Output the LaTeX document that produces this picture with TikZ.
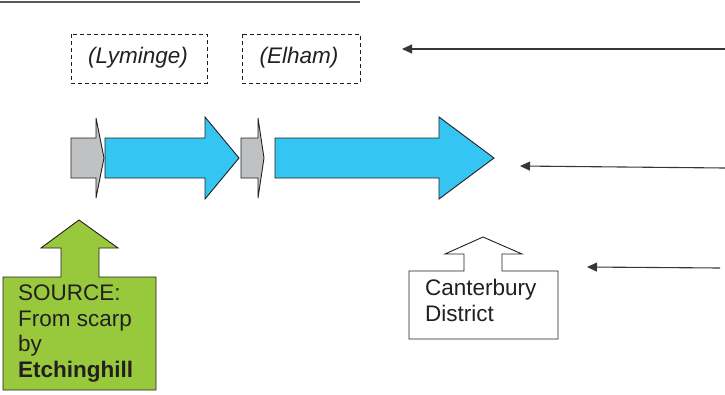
\documentclass[tikz,border=0pt]{standalone}
\usepackage{fontspec}
\setmainfont{Liberation Sans}
\usetikzlibrary{arrows.meta}
\definecolor{skyblue}{HTML}{35C5F2}
\definecolor{leafgreen}{HTML}{98C93C}
\definecolor{lightgrey}{HTML}{C0C1C3}
\definecolor{ink}{HTML}{231F20}
\tikzset{
  outline/.style={draw=ink, line width=0.9pt, line join=miter},
  dashbox/.style={draw=ink, line width=0.9pt, dash pattern=on 4pt off 3pt},
  lbl/.style={text=ink, font=\fontsize{22.5}{25.5}\selectfont, inner sep=0pt, align=left},
  pointer/.style={draw=ink!90, line width=1.1pt, -{Triangle[length=10pt,width=9pt]}}
}
\begin{document}
\begin{tikzpicture}[x=1pt,y=-1pt]
\useasboundingbox (0,0) rectangle (725,394);
% top rule
\draw[draw=ink!75, line width=1.3pt] (0,2) -- (360,2);
% dashed labels
\draw[dashbox] (71,34) rectangle (207,83);
\node[lbl, font=\fontsize{22.5}{25.5}\selectfont\itshape] (lym) at (138,58) {(Lyminge)};
\draw[dashbox] (242,34) rectangle (360,83);
\node[lbl, font=\fontsize{22.5}{25.5}\selectfont\itshape] (elh) at (299,58) {(Elham)};
% grey arrow 1
\draw[outline, fill=lightgrey] (71,138) -- (96,138) -- (96,118) -- (104,158) -- (96,198) -- (96,178) -- (71,178) -- cycle;
% blue arrow 1
\draw[outline, fill=skyblue] (105,138) -- (205,138) -- (205,117) -- (239,158) -- (205,199) -- (205,178) -- (105,178) -- cycle;
% grey arrow 2
\draw[outline, fill=lightgrey] (241,138) -- (258,138) -- (258,118) -- (264,158) -- (258,198) -- (258,178) -- (241,178) -- cycle;
% blue arrow 2
\draw[outline, fill=skyblue] (275,138) -- (439,138) -- (439,117) -- (494,158) -- (439,199) -- (439,178) -- (275,178) -- cycle;
% green source
\draw[outline, fill=leafgreen] (3,277) -- (61,277) -- (61,248) -- (41,248) -- (79,220) -- (118,248) -- (99,248) -- (99,277) -- (156,277) -- (156,390) -- (3,390) -- cycle;
\node[lbl, anchor=north west] (src) at (18,285) {SOURCE:\\From scarp\\by\\\textbf{Etchinghill}};
% Canterbury
\draw[outline, fill=white] (409,271) -- (464,271) -- (464,254) -- (445,254) -- (483,237) -- (522,254) -- (502,254) -- (502,271) -- (558,271) -- (558,339) -- (409,339) -- cycle;
\node[lbl, anchor=north west] (cant) at (425,279) {Canterbury\\District};
% pointers
\coordinate (p1s) at (725,49); \coordinate (p1e) at (402,49);
\coordinate (p2s) at (725,168); \coordinate (p2e) at (520,166);
\coordinate (p3s) at (720,268); \coordinate (p3e) at (587,267);
\draw[pointer] (p1s) -- (p1e);
\draw[pointer] (p2s) -- (p2e);
\draw[pointer] (p3s) -- (p3e);
\end{tikzpicture}
\end{document}
